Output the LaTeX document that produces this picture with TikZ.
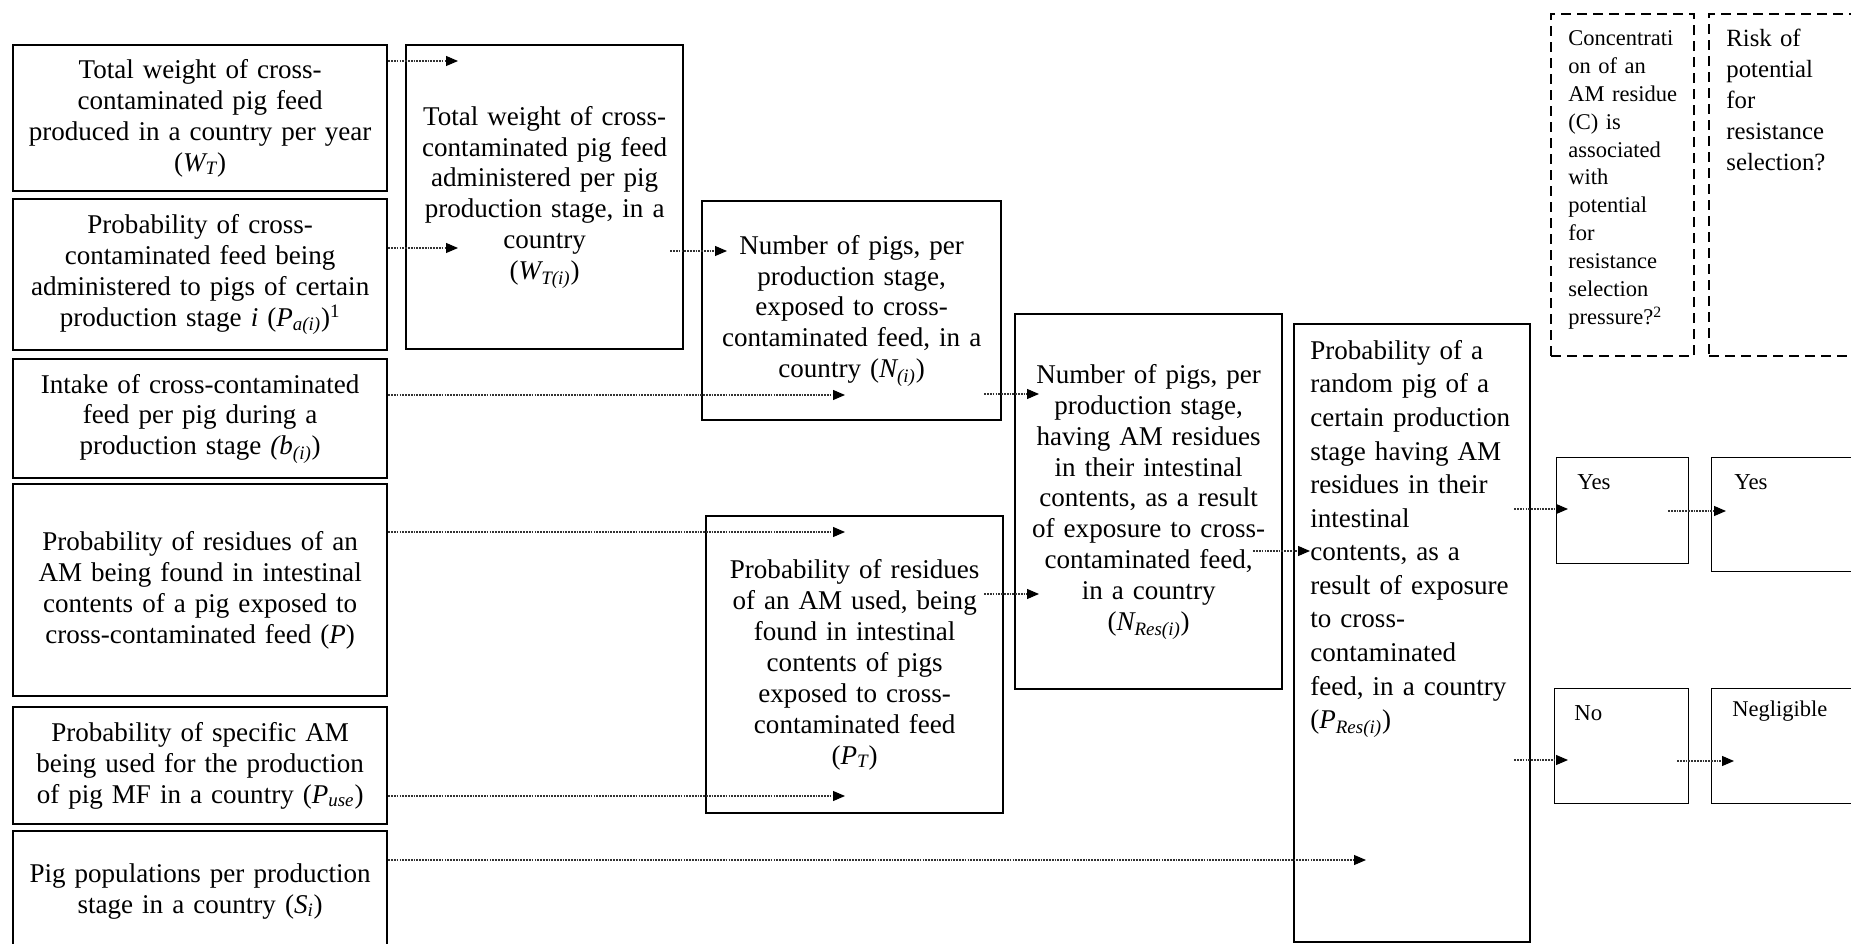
\documentclass[tikz,border=0pt]{standalone}
\usepackage{fontspec}
\setmainfont{Liberation Serif}
\usetikzlibrary{arrows.meta, calc}

\begin{document}
\begin{tikzpicture}[x=0.2mm,y=-0.2mm,
  box/.style={draw, line width=1.3pt, inner sep=0pt, anchor=north west, align=center, font=\fontsize{15.4pt}{17.6pt}\selectfont},
  leftbox/.style={box, minimum width=74.8mm, text width=72mm},
  thinbox/.style={draw, line width=0.7pt, inner sep=0pt, anchor=north west},
  dbox/.style={draw, line width=1.3pt, dash pattern=on 2mm off 1.2mm, inner sep=0pt, anchor=north west},
  toptext/.style={anchor=north west, align=left, inner sep=0pt},
  flow/.style={-{Triangle[length=2.4mm, width=2mm, color=black]}, draw=black!80, line width=0.6pt, dash pattern=on 1pt off 0.6pt}]
\useasboundingbox (0,0) rectangle (1851,944);
% inputs, left column
\node[leftbox, minimum height=29.2mm] (wt) at (12,44) {Total weight of cross-\\contaminated pig feed\\produced in a country per year\\(\textit{W\textsubscript{T}})};
\node[leftbox, minimum height=30.2mm] (pa) at (12,198) {Probability of cross-\\contaminated feed being\\administered to pigs of certain\\production stage \textit{i} (\textit{P\textsubscript{a(i)}})\textsuperscript{1}};
\node[leftbox, minimum height=23.8mm] (bi) at (12,358) {Intake of cross-contaminated\\feed per pig during a\\production stage \textit{(b\textsubscript{(i)}})};
\node[leftbox, minimum height=42.4mm] (p) at (12,483) {Probability of residues of an\\AM being found in intestinal\\contents of a pig exposed to\\cross-contaminated feed (\textit{P})};
\node[leftbox, minimum height=23.4mm] (puse) at (12,706) {Probability of specific AM\\being used for the production\\of pig MF in a country (\textit{P\textsubscript{use}})};
\node[leftbox, minimum height=24mm] (si) at (12,830) {Pig populations per production\\stage in a country (\textit{S\textsubscript{i}})};
% intermediate steps
\node[box, minimum width=55.4mm, minimum height=60.8mm, text width=52mm] (wti) at (405,44) {Total weight of cross-\\contaminated pig feed\\administered per pig\\production stage, in a\\country\\(\textit{W\textsubscript{T(i)}})};
\node[box, minimum width=59.8mm, minimum height=43.8mm, text width=56mm] (ni) at (701,200) {Number of pigs, per\\production stage,\\exposed to cross-\\contaminated feed, in a\\country (\textit{N\textsubscript{(i)}})};
\node[box, minimum width=59.4mm, minimum height=59.4mm, text width=56mm] (pt) at (705,515) {Probability of residues\\of an AM used, being\\found in intestinal\\contents of pigs\\exposed to cross-\\contaminated feed\\(\textit{P\textsubscript{T}})};
\node[box, minimum width=53.4mm, minimum height=75mm, text width=50mm] (nres) at (1014,313) {Number of pigs, per\\production stage,\\having AM residues\\in their intestinal\\contents, as a result\\of exposure to cross-\\contaminated feed,\\in a country\\(\textit{N\textsubscript{Res(i)}})};
\node[box, minimum width=47.2mm, minimum height=123.6mm] (pres) at (1293,323) {};
\node[toptext, text width=44mm, font=\fontsize{15.4pt}{19.1pt}\selectfont] (prestext) at ($(pres.north west)+(17,17)$) {Probability of a\\random pig of a\\certain production\\stage having AM\\residues in their\\intestinal\\contents, as a\\result of exposure\\to cross-\\contaminated\\feed, in a country\\(\textit{P\textsubscript{Res(i)}})};
% decision columns
\node[dbox, minimum width=28.6mm, minimum height=68.4mm] (conc) at (1550,13) {};
\node[toptext, text width=25mm, font=\fontsize{12.8pt}{15.9pt}\selectfont] (conctext) at ($(conc.north west)+(18,17)$) {Concentrati\\on of an\\AM residue\\(C) is\\associated\\with\\potential\\for\\resistance\\selection\\pressure?\textsuperscript{2}};
\node[dbox, minimum width=32mm, minimum height=68.4mm] (risk) at (1708,13) {};
\node[toptext, text width=25mm, font=\fontsize{14.1pt}{17.6pt}\selectfont] (risktext) at ($(risk.north west)+(18,16)$) {Risk of\\potential\\for\\resistance\\selection?};
\node[thinbox, minimum width=26.4mm, minimum height=21.2mm] (yes1) at (1556,457) {};
\node[toptext, font=\fontsize{13pt}{15pt}\selectfont] (yes1text) at ($(yes1.north west)+(21,17)$) {Yes};
\node[thinbox, minimum width=30mm, minimum height=22.8mm] (yes2) at (1711,457) {};
\node[toptext, font=\fontsize{13pt}{15pt}\selectfont] (yes2text) at ($(yes2.north west)+(23,17)$) {Yes};
\node[thinbox, minimum width=26.8mm, minimum height=23mm] (no) at (1554,688) {};
\node[toptext, font=\fontsize{13pt}{15pt}\selectfont] (notext) at ($(no.north west)+(20,17)$) {No};
\node[thinbox, minimum width=30mm, minimum height=23mm] (neg) at (1711,688) {};
\node[toptext, font=\fontsize{12.8pt}{15pt}\selectfont] (negtext) at ($(neg.north west)+(21,13)$) {Negligible};
% arrow tips
\coordinate (t1) at (458,61);
\coordinate (t2) at (458,248);
\coordinate (t3) at (727,251);
\coordinate (t4) at (845,395);
\coordinate (t5) at (845,532);
\coordinate (t6) at (845,796);
\coordinate (t7) at (1039,394);
\coordinate (t8) at (1039,594);
\coordinate (t9) at (1310,551);
\coordinate (t10) at (1366,860);
\coordinate (t11) at (1568,509);
\coordinate (t12) at (1726,511);
\coordinate (t13) at (1568,760);
\coordinate (t14) at (1734,761);
% connectors
\draw[flow] (wt.east |- t1) -- (t1);
\draw[flow] (pa.east |- t2) -- (t2);
\draw[flow] ($(wti.east |- t3)+(-14,0)$) -- (t3);
\draw[flow] (bi.east |- t4) -- (t4);
\draw[flow] (p.east |- t5) -- (t5);
\draw[flow] (puse.east |- t6) -- (t6);
\draw[flow] ($(ni.east |- t7)+(-18,0)$) -- (t7);
\draw[flow] ($(pt.east |- t8)+(-20,0)$) -- (t8);
\draw[flow] ($(nres.east |- t9)+(-30,0)$) -- (t9);
\draw[flow] (si.east |- t10) -- (t10);
\draw[flow] ($(pres.east |- t11)+(-17,0)$) -- (t11);
\draw[flow] ($(yes1.east |- t12)+(-21,0)$) -- (t12);
\draw[flow] ($(pres.east |- t13)+(-17,0)$) -- (t13);
\draw[flow] ($(no.east |- t14)+(-12,0)$) -- (t14);
\end{tikzpicture}
\end{document}
